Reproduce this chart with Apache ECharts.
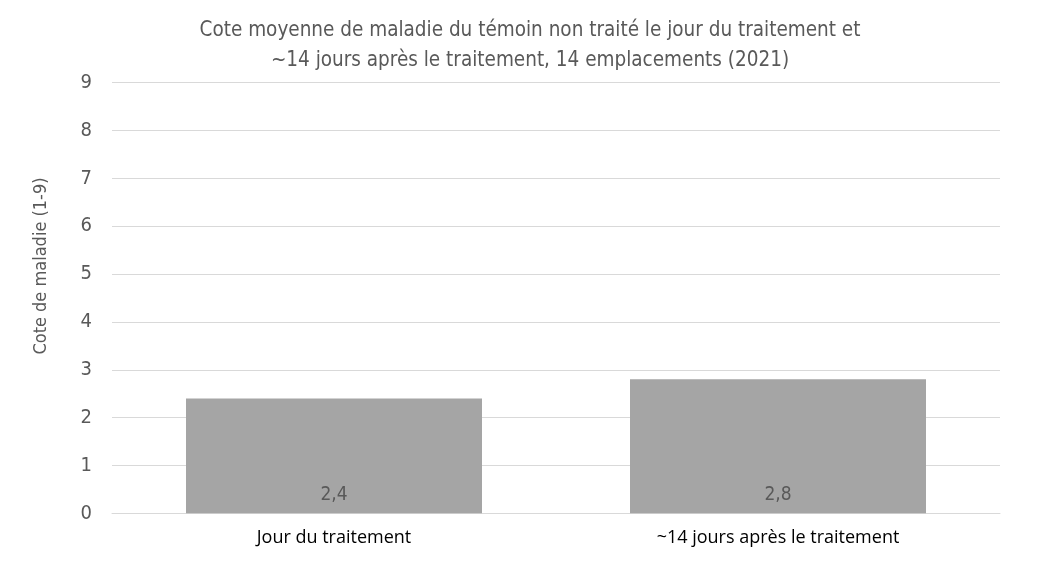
<!DOCTYPE html>
<html>
<head>
<meta charset="utf-8">
<script src="https://cdn.jsdelivr.net/npm/echarts@6/dist/echarts.min.js"></script>
<style>
  html, body { margin: 0; padding: 0; background: #fff; }
  #chartmain { width: 1050px; height: 566px; }
</style>
</head>
<body>
<div id="chartmain"></div>
<script>
// donnees
var categories = ['Jour du traitement', '~14 jours après le traitement'];
var cotes = [2.4, 2.8];
var yTicks = [0, 9, 1]; // min, max, interval

var narrow = "'Liberation Sans Narrow', 'DejaVu Sans Condensed', sans-serif";

var option = {
    animation: false,
    backgroundColor: '#fff',
    title: {
        text: 'Cote moyenne de maladie du témoin non traité le jour du traitement et\n~14 jours après le traitement, 14 emplacements (2021)',
        left: 525,
        textAlign: 'center',
        top: 11,
        textStyle: {
            fontFamily: narrow,
            fontWeight: 'normal',
            fontSize: 20.5,
            lineHeight: 30,
            color: '#595959'
        }
    },
    grid: {
        left: 112,
        right: 50,
        top: 82.7,
        bottom: 52.7
    },
    xAxis: {
        type: 'category',
        data: categories,
        axisLine: { lineStyle: { color: '#d9d9d9' } },
        axisTick: { show: false },
        axisLabel: {
            margin: 16,
            fontFamily: "'Open Sans', sans-serif",
            fontSize: 18,
            fontWeight: 500,
            color: '#000'
        }
    },
    yAxis: {
        type: 'value',
        min: yTicks[0],
        max: yTicks[1],
        interval: yTicks[2],
        name: 'Cote de maladie (1-9)',
        nameLocation: 'middle',
        nameGap: 62,
        nameRotate: 90,
        nameTextStyle: {
            fontFamily: narrow,
            fontSize: 18,
            color: '#595959',
            padding: [0, 0, 0, 64]
        },
        axisLine: { show: false },
        axisTick: { show: false },
        axisLabel: {
            margin: 20,
            fontFamily: narrow,
            fontSize: 20,
            color: '#595959'
        },
        splitLine: { lineStyle: { color: '#d9d9d9', width: 1 } }
    },
    series: [{
        type: 'bar',
        data: cotes,
        barWidth: 296,
        itemStyle: { color: '#a5a5a5' },
        label: {
            show: true,
            position: 'insideBottom',
            distance: 9,
            fontFamily: narrow,
            fontSize: 19,
            color: '#595959',
            formatter: function (p) {
                return String(p.value).replace('.', ',');
            }
        }
    }]
};

var myChart = echarts.init(document.getElementById('chartmain'));
myChart.setOption(option);
</script>
</body>
</html>
